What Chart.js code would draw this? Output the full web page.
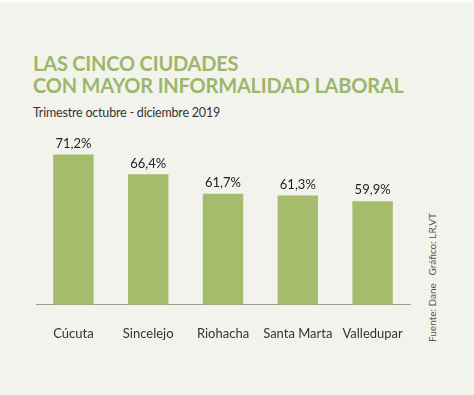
<!DOCTYPE html>
<html>
<head>
<meta charset="utf-8">
<script src="https://cdn.jsdelivr.net/npm/chart.js@4/dist/chart.umd.min.js"></script>
<style>
  html, body { margin: 0; padding: 0; }
  body { width: 474px; height: 395px; background: #f3f3ee; position: relative; overflow: hidden; border-top: 2px solid #fbfbf8; box-sizing: border-box; }
  #titulo { position: absolute; left: 33px; top: 50px; font-family: Lato, sans-serif; font-weight: 700; font-size: 20px; line-height: 22px; color: #9cb76b; letter-spacing: -0.2px; }
  #subtitulo { position: absolute; left: 33px; top: 103px; font-family: Lato, sans-serif; font-size: 12.5px; color: #333; letter-spacing: -0.2px; }
  #fuente { position: absolute; left: 426px; top: 340px; transform-origin: 0 0; transform: rotate(-90deg); font-family: Lato, sans-serif; font-size: 10px; color: #555; white-space: nowrap; }
  #wrap { position: absolute; left: 0; top: 0; width: 474px; height: 395px; }
</style>
</head>
<body>
<div id="titulo">LAS CINCO CIUDADES<br>CON MAYOR INFORMALIDAD LABORAL</div>
<div id="subtitulo">Trimestre octubre - diciembre 2019</div>
<div id="fuente">Fuente: Dane&nbsp;&nbsp;&nbsp;Gráfico: LR,VT</div>
<div id="wrap"><canvas id="grafico"></canvas></div>
<script>
// Datos
const ciudades = ["Cúcuta", "Sincelejo", "Riohacha", "Santa Marta", "Valledupar"];
const informalidad = [71.2, 66.4, 61.7, 61.3, 59.9];
const etiquetas = ["71,2%", "66,4%", "61,7%", "61,3%", "59,9%"];

// Etiquetas encima de las barras
const etiquetasBarras = {
  id: "etiquetasBarras",
  afterDatasetsDraw(chart) {
    const ctx = chart.ctx;
    const meta = chart.getDatasetMeta(0);
    ctx.save();
    ctx.font = "13px Lato, sans-serif";
    ctx.fillStyle = "#222";
    ctx.textAlign = "center";
    ctx.textBaseline = "middle";
    meta.data.forEach((bar, i) => {
      ctx.fillText(etiquetas[i], bar.x, bar.y - 11);
    });
    ctx.restore();
  }
};

new Chart(document.getElementById("grafico"), {
  type: "bar",
  data: {
    labels: ciudades,
    datasets: [{
      data: informalidad,
      backgroundColor: "#a4bc6c",
      barPercentage: 0.54,
      categoryPercentage: 1,
    }],
  },
  options: {
    responsive: true,
    maintainAspectRatio: false,
    animation: false,
    layout: { padding: { top: 116, left: 36, right: 64, bottom: 33 } },
    plugins: {
      legend: { display: false },
      tooltip: { enabled: false },
    },
    scales: {
      y: { display: false, min: 35, max: 80 },
      x: {
        grid: { display: false, drawTicks: false },
        border: { display: true, color: "#9a9a96", width: 1 },
        ticks: { color: "#333", font: { family: "Lato, sans-serif", size: 13 }, padding: 22, maxRotation: 0, minRotation: 0, autoSkip: false },
      },
    },
  },
  plugins: [etiquetasBarras],
});
</script>
</body>
</html>
